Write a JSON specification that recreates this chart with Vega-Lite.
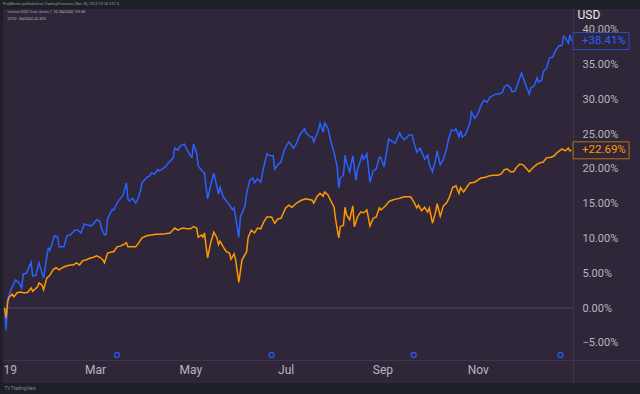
{
  "$schema": "https://vega.github.io/schema/vega-lite/v6.json",
  "width": 637,
  "height": 374,
  "autosize": {"type": "none"},
  "padding": {"left": 3, "top": 9, "right": 0, "bottom": 11},
  "background": "#1e2028",
  "config": {
    "font": "Roboto",
    "view": {"stroke": null, "fill": "#2f2739"},
    "axis": {"grid": false, "ticks": false}
  },
  "title": {
    "text": "ProjMoves published on TradingView.com, Nov 28, 2023 10:14 UTC-5",
    "anchor": "start",
    "frame": "group",
    "fontSize": 3.8,
    "fontWeight": "normal",
    "color": "#9a98a0",
    "offset": 2.5
  },
  "data": {
    "values": [
      {"date":"2019-01-02","series":"QQQ","value":0},
      {"date":"2019-01-03","series":"QQQ","value":-3.2},
      {"date":"2019-01-04","series":"QQQ","value":1.2},
      {"date":"2019-01-06","series":"QQQ","value":2.6},
      {"date":"2019-01-09","series":"QQQ","value":4.0},
      {"date":"2019-01-11","series":"QQQ","value":3.7},
      {"date":"2019-01-13","series":"QQQ","value":2.9},
      {"date":"2019-01-14","series":"QQQ","value":4.9},
      {"date":"2019-01-16","series":"QQQ","value":5.0},
      {"date":"2019-01-19","series":"QQQ","value":6.6},
      {"date":"2019-01-20","series":"QQQ","value":4.6},
      {"date":"2019-01-22","series":"QQQ","value":4.7},
      {"date":"2019-01-24","series":"QQQ","value":6.5},
      {"date":"2019-01-27","series":"QQQ","value":4.3},
      {"date":"2019-01-29","series":"QQQ","value":7.3},
      {"date":"2019-01-30","series":"QQQ","value":8.6},
      {"date":"2019-01-31","series":"QQQ","value":8.3},
      {"date":"2019-02-03","series":"QQQ","value":10.4},
      {"date":"2019-02-05","series":"QQQ","value":10.2},
      {"date":"2019-02-06","series":"QQQ","value":8.8},
      {"date":"2019-02-09","series":"QQQ","value":8.8},
      {"date":"2019-02-11","series":"QQQ","value":10.4},
      {"date":"2019-02-13","series":"QQQ","value":10.5},
      {"date":"2019-02-16","series":"QQQ","value":11.2},
      {"date":"2019-02-18","series":"QQQ","value":11.2},
      {"date":"2019-02-20","series":"QQQ","value":10.8},
      {"date":"2019-02-22","series":"QQQ","value":12.1},
      {"date":"2019-02-26","series":"QQQ","value":11.8},
      {"date":"2019-02-27","series":"QQQ","value":11.9},
      {"date":"2019-03-02","series":"QQQ","value":12.7},
      {"date":"2019-03-04","series":"QQQ","value":12.5},
      {"date":"2019-03-05","series":"QQQ","value":11.5},
      {"date":"2019-03-07","series":"QQQ","value":10.5},
      {"date":"2019-03-08","series":"QQQ","value":10.6},
      {"date":"2019-03-09","series":"QQQ","value":12.9},
      {"date":"2019-03-12","series":"QQQ","value":14.2},
      {"date":"2019-03-13","series":"QQQ","value":14.1},
      {"date":"2019-03-15","series":"QQQ","value":15.1},
      {"date":"2019-03-17","series":"QQQ","value":15.7},
      {"date":"2019-03-19","series":"QQQ","value":16.3},
      {"date":"2019-03-21","series":"QQQ","value":18.0},
      {"date":"2019-03-22","series":"QQQ","value":15.7},
      {"date":"2019-03-23","series":"QQQ","value":15.4},
      {"date":"2019-03-25","series":"QQQ","value":15.8},
      {"date":"2019-03-27","series":"QQQ","value":15.1},
      {"date":"2019-03-28","series":"QQQ","value":15.5},
      {"date":"2019-03-30","series":"QQQ","value":16.8},
      {"date":"2019-03-31","series":"QQQ","value":18.0},
      {"date":"2019-04-03","series":"QQQ","value":18.8},
      {"date":"2019-04-05","series":"QQQ","value":19.0},
      {"date":"2019-04-06","series":"QQQ","value":19.4},
      {"date":"2019-04-08","series":"QQQ","value":19.3},
      {"date":"2019-04-10","series":"QQQ","value":19.9},
      {"date":"2019-04-11","series":"QQQ","value":19.7},
      {"date":"2019-04-15","series":"QQQ","value":20.3},
      {"date":"2019-04-17","series":"QQQ","value":20.9},
      {"date":"2019-04-20","series":"QQQ","value":21.6},
      {"date":"2019-04-21","series":"QQQ","value":23.0},
      {"date":"2019-04-23","series":"QQQ","value":22.7},
      {"date":"2019-04-24","series":"QQQ","value":23.2},
      {"date":"2019-04-27","series":"QQQ","value":23.6},
      {"date":"2019-04-29","series":"QQQ","value":22.7},
      {"date":"2019-05-01","series":"QQQ","value":21.9},
      {"date":"2019-05-02","series":"QQQ","value":21.7},
      {"date":"2019-05-03","series":"QQQ","value":23.6},
      {"date":"2019-05-05","series":"QQQ","value":22.3},
      {"date":"2019-05-06","series":"QQQ","value":20.4},
      {"date":"2019-05-09","series":"QQQ","value":19.6},
      {"date":"2019-05-10","series":"QQQ","value":19.4},
      {"date":"2019-05-12","series":"QQQ","value":15.7},
      {"date":"2019-05-14","series":"QQQ","value":17.7},
      {"date":"2019-05-16","series":"QQQ","value":19.4},
      {"date":"2019-05-17","series":"QQQ","value":18.4},
      {"date":"2019-05-19","series":"QQQ","value":16.4},
      {"date":"2019-05-20","series":"QQQ","value":17.4},
      {"date":"2019-05-22","series":"QQQ","value":16.0},
      {"date":"2019-05-24","series":"QQQ","value":15.4},
      {"date":"2019-05-26","series":"QQQ","value":14.8},
      {"date":"2019-05-28","series":"QQQ","value":14.1},
      {"date":"2019-05-29","series":"QQQ","value":14.4},
      {"date":"2019-06-01","series":"QQQ","value":10.2},
      {"date":"2019-06-02","series":"QQQ","value":13.1},
      {"date":"2019-06-05","series":"QQQ","value":14.7},
      {"date":"2019-06-06","series":"QQQ","value":16.5},
      {"date":"2019-06-08","series":"QQQ","value":18.4},
      {"date":"2019-06-10","series":"QQQ","value":18.7},
      {"date":"2019-06-11","series":"QQQ","value":18.0},
      {"date":"2019-06-13","series":"QQQ","value":18.6},
      {"date":"2019-06-15","series":"QQQ","value":18.1},
      {"date":"2019-06-17","series":"QQQ","value":20.3},
      {"date":"2019-06-19","series":"QQQ","value":22.2},
      {"date":"2019-06-21","series":"QQQ","value":21.9},
      {"date":"2019-06-23","series":"QQQ","value":21.9},
      {"date":"2019-06-24","series":"QQQ","value":20.0},
      {"date":"2019-06-26","series":"QQQ","value":20.6},
      {"date":"2019-06-28","series":"QQQ","value":21.0},
      {"date":"2019-06-30","series":"QQQ","value":22.7},
      {"date":"2019-07-03","series":"QQQ","value":23.9},
      {"date":"2019-07-04","series":"QQQ","value":23.7},
      {"date":"2019-07-06","series":"QQQ","value":23.0},
      {"date":"2019-07-08","series":"QQQ","value":23.7},
      {"date":"2019-07-10","series":"QQQ","value":24.9},
      {"date":"2019-07-13","series":"QQQ","value":25.8},
      {"date":"2019-07-14","series":"QQQ","value":25.2},
      {"date":"2019-07-17","series":"QQQ","value":24.6},
      {"date":"2019-07-18","series":"QQQ","value":24.6},
      {"date":"2019-07-19","series":"QQQ","value":23.9},
      {"date":"2019-07-22","series":"QQQ","value":25.6},
      {"date":"2019-07-23","series":"QQQ","value":26.6},
      {"date":"2019-07-25","series":"QQQ","value":25.3},
      {"date":"2019-07-26","series":"QQQ","value":26.6},
      {"date":"2019-07-28","series":"QQQ","value":25.9},
      {"date":"2019-07-30","series":"QQQ","value":23.9},
      {"date":"2019-08-01","series":"QQQ","value":22.4},
      {"date":"2019-08-03","series":"QQQ","value":20.3},
      {"date":"2019-08-04","series":"QQQ","value":17.3},
      {"date":"2019-08-05","series":"QQQ","value":18.7},
      {"date":"2019-08-07","series":"QQQ","value":19.1},
      {"date":"2019-08-08","series":"QQQ","value":22.0},
      {"date":"2019-08-09","series":"QQQ","value":20.9},
      {"date":"2019-08-11","series":"QQQ","value":19.6},
      {"date":"2019-08-13","series":"QQQ","value":21.9},
      {"date":"2019-08-15","series":"QQQ","value":18.4},
      {"date":"2019-08-16","series":"QQQ","value":19.9},
      {"date":"2019-08-19","series":"QQQ","value":22.0},
      {"date":"2019-08-20","series":"QQQ","value":21.4},
      {"date":"2019-08-22","series":"QQQ","value":22.2},
      {"date":"2019-08-24","series":"QQQ","value":18.1},
      {"date":"2019-08-26","series":"QQQ","value":19.7},
      {"date":"2019-08-28","series":"QQQ","value":20.0},
      {"date":"2019-08-30","series":"QQQ","value":21.7},
      {"date":"2019-08-31","series":"QQQ","value":21.6},
      {"date":"2019-09-02","series":"QQQ","value":20.3},
      {"date":"2019-09-05","series":"QQQ","value":24.3},
      {"date":"2019-09-07","series":"QQQ","value":24.0},
      {"date":"2019-09-09","series":"QQQ","value":23.7},
      {"date":"2019-09-12","series":"QQQ","value":25.2},
      {"date":"2019-09-13","series":"QQQ","value":24.7},
      {"date":"2019-09-15","series":"QQQ","value":24.2},
      {"date":"2019-09-18","series":"QQQ","value":24.9},
      {"date":"2019-09-20","series":"QQQ","value":24.9},
      {"date":"2019-09-21","series":"QQQ","value":23.9},
      {"date":"2019-09-23","series":"QQQ","value":22.4},
      {"date":"2019-09-25","series":"QQQ","value":23.0},
      {"date":"2019-09-27","series":"QQQ","value":22.0},
      {"date":"2019-09-28","series":"QQQ","value":21.4},
      {"date":"2019-09-30","series":"QQQ","value":22.0},
      {"date":"2019-10-01","series":"QQQ","value":20.6},
      {"date":"2019-10-03","series":"QQQ","value":19.6},
      {"date":"2019-10-05","series":"QQQ","value":21.3},
      {"date":"2019-10-06","series":"QQQ","value":22.6},
      {"date":"2019-10-08","series":"QQQ","value":20.6},
      {"date":"2019-10-10","series":"QQQ","value":21.4},
      {"date":"2019-10-12","series":"QQQ","value":22.9},
      {"date":"2019-10-13","series":"QQQ","value":24.0},
      {"date":"2019-10-15","series":"QQQ","value":25.6},
      {"date":"2019-10-17","series":"QQQ","value":25.5},
      {"date":"2019-10-18","series":"QQQ","value":25.8},
      {"date":"2019-10-20","series":"QQQ","value":24.6},
      {"date":"2019-10-21","series":"QQQ","value":25.5},
      {"date":"2019-10-22","series":"QQQ","value":24.6},
      {"date":"2019-10-24","series":"QQQ","value":24.9},
      {"date":"2019-10-27","series":"QQQ","value":26.6},
      {"date":"2019-10-28","series":"QQQ","value":28.2},
      {"date":"2019-10-30","series":"QQQ","value":27.3},
      {"date":"2019-11-01","series":"QQQ","value":27.9},
      {"date":"2019-11-03","series":"QQQ","value":29.1},
      {"date":"2019-11-05","series":"QQQ","value":29.9},
      {"date":"2019-11-07","series":"QQQ","value":29.6},
      {"date":"2019-11-09","series":"QQQ","value":30.4},
      {"date":"2019-11-11","series":"QQQ","value":30.6},
      {"date":"2019-11-13","series":"QQQ","value":30.8},
      {"date":"2019-11-15","series":"QQQ","value":30.8},
      {"date":"2019-11-17","series":"QQQ","value":31.1},
      {"date":"2019-11-18","series":"QQQ","value":31.8},
      {"date":"2019-11-20","series":"QQQ","value":32.1},
      {"date":"2019-11-22","series":"QQQ","value":31.7},
      {"date":"2019-11-23","series":"QQQ","value":31.1},
      {"date":"2019-11-25","series":"QQQ","value":31.2},
      {"date":"2019-11-27","series":"QQQ","value":32.5},
      {"date":"2019-11-29","series":"QQQ","value":33.8},
      {"date":"2019-11-30","series":"QQQ","value":33.2},
      {"date":"2019-12-02","series":"QQQ","value":31.9},
      {"date":"2019-12-04","series":"QQQ","value":30.8},
      {"date":"2019-12-05","series":"QQQ","value":31.7},
      {"date":"2019-12-07","series":"QQQ","value":31.9},
      {"date":"2019-12-09","series":"QQQ","value":33.1},
      {"date":"2019-12-10","series":"QQQ","value":32.5},
      {"date":"2019-12-12","series":"QQQ","value":32.8},
      {"date":"2019-12-13","series":"QQQ","value":34.0},
      {"date":"2019-12-15","series":"QQQ","value":34.5},
      {"date":"2019-12-17","series":"QQQ","value":36.0},
      {"date":"2019-12-19","series":"QQQ","value":36.1},
      {"date":"2019-12-21","series":"QQQ","value":37.1},
      {"date":"2019-12-23","series":"QQQ","value":37.7},
      {"date":"2019-12-25","series":"QQQ","value":37.8},
      {"date":"2019-12-26","series":"QQQ","value":39.1},
      {"date":"2019-12-27","series":"QQQ","value":38.9},
      {"date":"2019-12-29","series":"QQQ","value":38.1},
      {"date":"2019-12-30","series":"QQQ","value":39.3},
      {"date":"2019-12-31","series":"QQQ","value":38.41},
      {"date":"2019-01-02","series":"QYLD","value":0},
      {"date":"2019-01-03","series":"QYLD","value":-1.4},
      {"date":"2019-01-04","series":"QYLD","value":0.9},
      {"date":"2019-01-05","series":"QYLD","value":1.6},
      {"date":"2019-01-07","series":"QYLD","value":2.0},
      {"date":"2019-01-08","series":"QYLD","value":1.6},
      {"date":"2019-01-10","series":"QYLD","value":2.2},
      {"date":"2019-01-12","series":"QYLD","value":2.3},
      {"date":"2019-01-14","series":"QYLD","value":2.2},
      {"date":"2019-01-16","series":"QYLD","value":2.2},
      {"date":"2019-01-17","series":"QYLD","value":2.3},
      {"date":"2019-01-19","series":"QYLD","value":2.9},
      {"date":"2019-01-20","series":"QYLD","value":2.4},
      {"date":"2019-01-21","series":"QYLD","value":2.6},
      {"date":"2019-01-23","series":"QYLD","value":3.0},
      {"date":"2019-01-24","series":"QYLD","value":3.6},
      {"date":"2019-01-26","series":"QYLD","value":3.3},
      {"date":"2019-01-27","series":"QYLD","value":2.6},
      {"date":"2019-01-29","series":"QYLD","value":4.3},
      {"date":"2019-01-31","series":"QYLD","value":4.7},
      {"date":"2019-02-02","series":"QYLD","value":5.5},
      {"date":"2019-02-04","series":"QYLD","value":5.8},
      {"date":"2019-02-06","series":"QYLD","value":5.5},
      {"date":"2019-02-08","series":"QYLD","value":5.8},
      {"date":"2019-02-10","series":"QYLD","value":6.0},
      {"date":"2019-02-13","series":"QYLD","value":6.2},
      {"date":"2019-02-15","series":"QYLD","value":6.2},
      {"date":"2019-02-17","series":"QYLD","value":6.5},
      {"date":"2019-02-19","series":"QYLD","value":6.2},
      {"date":"2019-02-21","series":"QYLD","value":6.8},
      {"date":"2019-02-23","series":"QYLD","value":6.9},
      {"date":"2019-02-26","series":"QYLD","value":7.2},
      {"date":"2019-02-28","series":"QYLD","value":7.3},
      {"date":"2019-03-02","series":"QYLD","value":7.5},
      {"date":"2019-03-04","series":"QYLD","value":7.3},
      {"date":"2019-03-06","series":"QYLD","value":6.9},
      {"date":"2019-03-07","series":"QYLD","value":6.5},
      {"date":"2019-03-09","series":"QYLD","value":7.9},
      {"date":"2019-03-12","series":"QYLD","value":8.1},
      {"date":"2019-03-13","series":"QYLD","value":8.1},
      {"date":"2019-03-15","series":"QYLD","value":8.8},
      {"date":"2019-03-17","series":"QYLD","value":8.9},
      {"date":"2019-03-19","series":"QYLD","value":9.1},
      {"date":"2019-03-21","series":"QYLD","value":9.4},
      {"date":"2019-03-22","series":"QYLD","value":8.8},
      {"date":"2019-03-24","series":"QYLD","value":8.8},
      {"date":"2019-03-27","series":"QYLD","value":8.8},
      {"date":"2019-03-29","series":"QYLD","value":9.4},
      {"date":"2019-03-31","series":"QYLD","value":10.1},
      {"date":"2019-04-03","series":"QYLD","value":10.4},
      {"date":"2019-04-06","series":"QYLD","value":10.5},
      {"date":"2019-04-09","series":"QYLD","value":10.6},
      {"date":"2019-04-11","series":"QYLD","value":10.6},
      {"date":"2019-04-15","series":"QYLD","value":10.7},
      {"date":"2019-04-18","series":"QYLD","value":10.8},
      {"date":"2019-04-21","series":"QYLD","value":11.5},
      {"date":"2019-04-23","series":"QYLD","value":11.2},
      {"date":"2019-04-26","series":"QYLD","value":11.5},
      {"date":"2019-04-29","series":"QYLD","value":11.4},
      {"date":"2019-05-01","series":"QYLD","value":11.4},
      {"date":"2019-05-03","series":"QYLD","value":11.7},
      {"date":"2019-05-05","series":"QYLD","value":11.5},
      {"date":"2019-05-06","series":"QYLD","value":10.2},
      {"date":"2019-05-08","series":"QYLD","value":10.5},
      {"date":"2019-05-09","series":"QYLD","value":10.2},
      {"date":"2019-05-10","series":"QYLD","value":10.8},
      {"date":"2019-05-12","series":"QYLD","value":7.2},
      {"date":"2019-05-14","series":"QYLD","value":9.4},
      {"date":"2019-05-16","series":"QYLD","value":10.9},
      {"date":"2019-05-18","series":"QYLD","value":10.1},
      {"date":"2019-05-19","series":"QYLD","value":9.1},
      {"date":"2019-05-20","series":"QYLD","value":9.6},
      {"date":"2019-05-22","series":"QYLD","value":8.8},
      {"date":"2019-05-24","series":"QYLD","value":8.1},
      {"date":"2019-05-26","series":"QYLD","value":7.9},
      {"date":"2019-05-27","series":"QYLD","value":7.0},
      {"date":"2019-05-29","series":"QYLD","value":7.8},
      {"date":"2019-05-30","series":"QYLD","value":6.9},
      {"date":"2019-06-01","series":"QYLD","value":3.7},
      {"date":"2019-06-03","series":"QYLD","value":6.9},
      {"date":"2019-06-06","series":"QYLD","value":8.1},
      {"date":"2019-06-07","series":"QYLD","value":10.2},
      {"date":"2019-06-09","series":"QYLD","value":11.2},
      {"date":"2019-06-11","series":"QYLD","value":10.8},
      {"date":"2019-06-13","series":"QYLD","value":11.5},
      {"date":"2019-06-15","series":"QYLD","value":11.4},
      {"date":"2019-06-17","series":"QYLD","value":12.4},
      {"date":"2019-06-19","series":"QYLD","value":13.1},
      {"date":"2019-06-22","series":"QYLD","value":13.1},
      {"date":"2019-06-24","series":"QYLD","value":12.2},
      {"date":"2019-06-26","series":"QYLD","value":12.8},
      {"date":"2019-06-28","series":"QYLD","value":12.9},
      {"date":"2019-07-01","series":"QYLD","value":14.4},
      {"date":"2019-07-03","series":"QYLD","value":14.8},
      {"date":"2019-07-05","series":"QYLD","value":14.5},
      {"date":"2019-07-08","series":"QYLD","value":15.1},
      {"date":"2019-07-11","series":"QYLD","value":15.5},
      {"date":"2019-07-14","series":"QYLD","value":15.7},
      {"date":"2019-07-18","series":"QYLD","value":15.5},
      {"date":"2019-07-19","series":"QYLD","value":15.1},
      {"date":"2019-07-21","series":"QYLD","value":16.0},
      {"date":"2019-07-23","series":"QYLD","value":16.5},
      {"date":"2019-07-25","series":"QYLD","value":16.1},
      {"date":"2019-07-26","series":"QYLD","value":16.7},
      {"date":"2019-07-28","series":"QYLD","value":16.3},
      {"date":"2019-07-30","series":"QYLD","value":15.4},
      {"date":"2019-08-01","series":"QYLD","value":14.5},
      {"date":"2019-08-02","series":"QYLD","value":12.7},
      {"date":"2019-08-04","series":"QYLD","value":10.1},
      {"date":"2019-08-05","series":"QYLD","value":11.7},
      {"date":"2019-08-07","series":"QYLD","value":11.9},
      {"date":"2019-08-08","series":"QYLD","value":14.5},
      {"date":"2019-08-09","series":"QYLD","value":13.4},
      {"date":"2019-08-11","series":"QYLD","value":12.7},
      {"date":"2019-08-13","series":"QYLD","value":14.7},
      {"date":"2019-08-14","series":"QYLD","value":11.7},
      {"date":"2019-08-16","series":"QYLD","value":13.1},
      {"date":"2019-08-18","series":"QYLD","value":13.8},
      {"date":"2019-08-20","series":"QYLD","value":13.7},
      {"date":"2019-08-22","series":"QYLD","value":14.1},
      {"date":"2019-08-24","series":"QYLD","value":11.8},
      {"date":"2019-08-26","series":"QYLD","value":12.9},
      {"date":"2019-08-28","series":"QYLD","value":13.1},
      {"date":"2019-08-30","series":"QYLD","value":14.4},
      {"date":"2019-08-31","series":"QYLD","value":14.1},
      {"date":"2019-09-03","series":"QYLD","value":14.7},
      {"date":"2019-09-05","series":"QYLD","value":15.3},
      {"date":"2019-09-07","series":"QYLD","value":15.5},
      {"date":"2019-09-10","series":"QYLD","value":15.7},
      {"date":"2019-09-12","series":"QYLD","value":15.8},
      {"date":"2019-09-15","series":"QYLD","value":16.0},
      {"date":"2019-09-19","series":"QYLD","value":16.0},
      {"date":"2019-09-21","series":"QYLD","value":15.3},
      {"date":"2019-09-23","series":"QYLD","value":14.4},
      {"date":"2019-09-24","series":"QYLD","value":14.8},
      {"date":"2019-09-26","series":"QYLD","value":14.0},
      {"date":"2019-09-28","series":"QYLD","value":14.5},
      {"date":"2019-09-30","series":"QYLD","value":13.8},
      {"date":"2019-10-01","series":"QYLD","value":14.4},
      {"date":"2019-10-03","series":"QYLD","value":12.2},
      {"date":"2019-10-05","series":"QYLD","value":13.8},
      {"date":"2019-10-06","series":"QYLD","value":15.0},
      {"date":"2019-10-08","series":"QYLD","value":13.2},
      {"date":"2019-10-10","series":"QYLD","value":14.7},
      {"date":"2019-10-12","series":"QYLD","value":15.1},
      {"date":"2019-10-14","series":"QYLD","value":16.0},
      {"date":"2019-10-16","series":"QYLD","value":17.4},
      {"date":"2019-10-17","series":"QYLD","value":17.4},
      {"date":"2019-10-18","series":"QYLD","value":17.6},
      {"date":"2019-10-20","series":"QYLD","value":16.5},
      {"date":"2019-10-21","series":"QYLD","value":17.3},
      {"date":"2019-10-23","series":"QYLD","value":16.7},
      {"date":"2019-10-25","series":"QYLD","value":17.4},
      {"date":"2019-10-27","series":"QYLD","value":18.0},
      {"date":"2019-10-30","series":"QYLD","value":18.1},
      {"date":"2019-11-01","series":"QYLD","value":18.4},
      {"date":"2019-11-03","series":"QYLD","value":18.7},
      {"date":"2019-11-06","series":"QYLD","value":18.8},
      {"date":"2019-11-08","series":"QYLD","value":19.0},
      {"date":"2019-11-11","series":"QYLD","value":19.1},
      {"date":"2019-11-14","series":"QYLD","value":19.1},
      {"date":"2019-11-16","series":"QYLD","value":19.3},
      {"date":"2019-11-18","series":"QYLD","value":19.9},
      {"date":"2019-11-20","series":"QYLD","value":20.0},
      {"date":"2019-11-22","series":"QYLD","value":19.6},
      {"date":"2019-11-24","series":"QYLD","value":19.6},
      {"date":"2019-11-26","series":"QYLD","value":20.3},
      {"date":"2019-11-28","series":"QYLD","value":20.7},
      {"date":"2019-11-30","series":"QYLD","value":20.6},
      {"date":"2019-12-02","series":"QYLD","value":20.1},
      {"date":"2019-12-04","series":"QYLD","value":19.6},
      {"date":"2019-12-06","series":"QYLD","value":20.1},
      {"date":"2019-12-09","series":"QYLD","value":20.7},
      {"date":"2019-12-11","series":"QYLD","value":20.9},
      {"date":"2019-12-13","series":"QYLD","value":21.0},
      {"date":"2019-12-15","series":"QYLD","value":21.6},
      {"date":"2019-12-18","series":"QYLD","value":21.7},
      {"date":"2019-12-20","series":"QYLD","value":21.9},
      {"date":"2019-12-22","series":"QYLD","value":22.4},
      {"date":"2019-12-25","series":"QYLD","value":22.9},
      {"date":"2019-12-27","series":"QYLD","value":22.6},
      {"date":"2019-12-29","series":"QYLD","value":23.0},
      {"date":"2019-12-30","series":"QYLD","value":22.6},
      {"date":"2019-12-31","series":"QYLD","value":22.69}
    ]
  },
  "layer": [
    {
      "data": {"values": [{}]},
      "mark": {"type": "rule", "color": "#544c5e", "strokeWidth": 1},
      "encoding": {
        "y": {"datum": 0, "type": "quantitative"},
        "x": {"datum": {"year": 2019, "month": 1, "date": 1, "utc": true}, "type": "temporal"},
        "x2": {"datum": {"year": 2020, "month": 1, "date": 1, "utc": true}}
      }
    },
    {
      "mark": {"type": "line", "strokeWidth": 1.5},
      "encoding": {
        "x": {
          "field": "date",
          "type": "temporal",
          "scale": {"domain": [1546300800000, 1581543360000]},
          "axis": {
            "orient": "bottom",
            "offset": -23,
            "values": [1546300800000, 1551398400000, 1556668800000, 1561939200000, 1567296000000, 1572566400000],
            "labelExpr": "utcmonth(datum.value) == 0 ? '19' : utcFormat(datum.value, '%b')",
            "labelFlush": true,
            "labelOverlap": false,
            "labelFontSize": 12,
            "labelColor": "#b8b6bd",
            "labelPadding": 4,
            "domainColor": "#3f3649",
            "title": "TV TradingView",
            "titleFontSize": 4.5,
            "titleColor": "#8a8890",
            "titleFontWeight": "normal",
            "titleAnchor": "start",
            "titleAlign": "left",
            "titleBaseline": "middle",
            "titleX": 1,
            "titleY": 28.5
          }
        },
        "y": {
          "field": "value",
          "type": "quantitative",
          "scale": {"domain": [-10.79, 43.02], "zero": false, "nice": false},
          "axis": {
            "orient": "right",
            "offset": -67,
            "values": [-5, 0, 5, 10, 15, 20, 25, 30, 35, 40],
            "labelExpr": "format(datum.value, '.2f') + '%'",
            "labelOverlap": false,
            "labelFontSize": 11,
            "labelColor": "#b8b6bd",
            "labelPadding": 9,
            "labelAlign": "left",
            "domainColor": "#3f3649",
            "title": "USD",
            "titleAngle": 0,
            "titleAlign": "left",
            "titleBaseline": "middle",
            "titleX": 4,
            "titleY": 5,
            "titleFontSize": 12,
            "titleColor": "#e8e8ea",
            "titleFontWeight": "normal"
          }
        },
        "color": {
          "field": "series",
          "type": "nominal",
          "scale": {"domain": ["QQQ", "QYLD"], "range": ["#2962ff", "#ff9800"]},
          "legend": {
            "orient": "top-left",
            "offset": 1,
            "padding": 0,
            "title": null,
            "symbolSize": 0,
            "symbolOpacity": 0,
            "symbolStrokeWidth": 0,
            "labelOffset": 0,
            "labelFontSize": 3.6,
            "labelColor": "#a7a4ad",
            "rowPadding": 1.8,
            "labelExpr": "datum.label == 'QQQ' ? 'Invesco QQQ Trust, Series 1, 1D, NASDAQ   155.88' : 'QYLD · NASDAQ   40.40%'"
          }
        }
      }
    },
    {
      "data": {"values": [{"date": "2019-03-15"}, {"date": "2019-06-22"}, {"date": "2019-09-21"}, {"date": "2019-12-24"}]},
      "mark": {"type": "point", "shape": "circle", "size": 24, "filled": false, "stroke": "#2a55e0", "strokeWidth": 1.4, "opacity": 1},
      "encoding": {
        "x": {"field": "date", "type": "temporal"},
        "y": {"datum": -6.76, "type": "quantitative"}
      }
    },
    {
      "transform": [{"filter": {"field": "date", "equal": {"year": 2019, "month": 12, "date": 31, "utc": true}}}],
      "mark": {"type": "point", "shape": "M0.19,-1H6.78V1H0.19Z", "size": 289, "filled": true, "fill": "#2f2739", "strokeWidth": 1, "strokeOpacity": 0.65, "opacity": 1},
      "encoding": {
        "x": {"field": "date", "type": "temporal"},
        "y": {"field": "value", "type": "quantitative"},
        "stroke": {"field": "series", "type": "nominal", "scale": {"domain": ["QQQ", "QYLD"], "range": ["#2962ff", "#ff9800"]}, "legend": null}
      }
    },
    {
      "transform": [
        {"filter": {"field": "date", "equal": {"year": 2019, "month": 12, "date": 31, "utc": true}}},
        {"calculate": "'+' + format(datum.value, '.2f') + '%'", "as": "lbl"}
      ],
      "mark": {"type": "text", "align": "left", "baseline": "middle", "dx": 10.5, "fontSize": 11.5},
      "encoding": {
        "x": {"field": "date", "type": "temporal"},
        "y": {"field": "value", "type": "quantitative"},
        "text": {"field": "lbl"},
        "fill": {"field": "series", "type": "nominal", "scale": {"domain": ["QQQ", "QYLD"], "range": ["#2962ff", "#ff9800"]}, "legend": null}
      }
    }
  ]
}
